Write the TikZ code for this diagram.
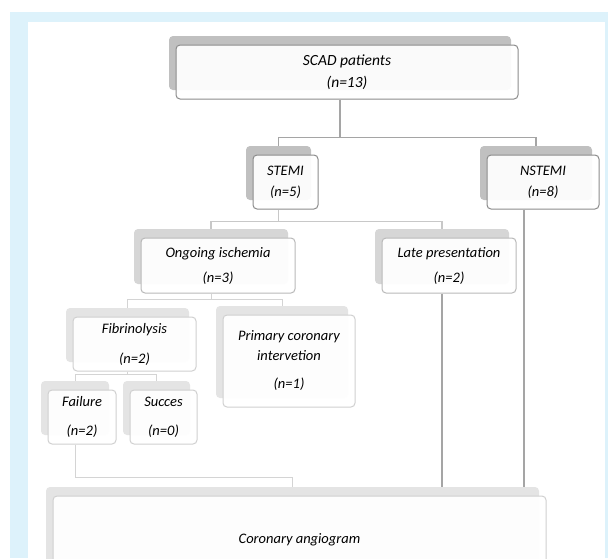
\documentclass[tikz,border=0pt]{standalone}
\usepackage{fontspec}
\setmainfont{Carlito}
\usepackage{xcolor}
\usepackage{tikz}
\usetikzlibrary{shadows,positioning}
\definecolor{framebl}{RGB}{221,242,251}
\definecolor{bordA}{RGB}{140,140,140}
\definecolor{bordB}{RGB}{185,185,185}
\definecolor{bordC}{RGB}{208,208,208}
\definecolor{shadA}{RGB}{192,192,192}
\definecolor{shadB}{RGB}{214,214,214}
\definecolor{shadC}{RGB}{228,228,228}
\definecolor{lineA}{RGB}{165,165,165}
\definecolor{lineB}{RGB}{200,200,200}
\definecolor{lineC}{RGB}{212,212,212}

\begin{document}
\begin{tikzpicture}[x=1pt,y=-1pt,font=\fontsize{14.5}{17}\selectfont\itshape,
   box/.style={rounded corners=4pt,fill=white,fill opacity=0.93,text opacity=1,
               inner sep=0pt,align=center,line width=1pt},
   boxa/.style={box,draw=bordA,general shadow={draw=none,fill=shadA,fill opacity=1,
               shadow xshift=-7pt,shadow yshift=9pt}},
   boxb/.style={box,draw=bordB,general shadow={draw=none,fill=shadB,fill opacity=1,
               shadow xshift=-7pt,shadow yshift=9pt}},
   boxc/.style={box,draw=bordC,general shadow={draw=none,fill=shadC,fill opacity=1,
               shadow xshift=-7pt,shadow yshift=9pt}},
   lnA/.style={draw=lineA,line width=1.3pt},
   lnB/.style={draw=lineB,line width=1.1pt},
   lnC/.style={draw=lineC,line width=1pt}]
  \useasboundingbox (0,0) rectangle (608,558);
  \clip (0,0) rectangle (608,558);
  \fill[white] (0,0) rectangle (608,558);
  \fill[framebl] (10,12) rectangle (608,558);
  \fill[white] (28,22) rectangle (605,558);

  \node[boxa,minimum width=342pt,minimum height=54pt,font=\fontsize{15.5}{18}\selectfont\itshape]
     (scad) at (347,72) {SCAD patients\\[4pt](n=13)};
  \node[boxa,minimum width=65pt,minimum height=54pt] (stemi) at (285.5,182) {STEMI\\[4pt](n=5)};
  \node[boxa,minimum width=112pt,minimum height=54pt] (nstemi) at (543,182) {NSTEMI\\[4pt](n=8)};
  \node[boxb,minimum width=154pt,minimum height=55pt] (ongo) at (218,265.5) {Ongoing ischemia\\[8pt](n=3)};
  \node[boxb,minimum width=134pt,minimum height=55pt] (late) at (449,265.5) {Late presentation\\[8pt](n=2)};
  \node[boxc,minimum width=123pt,minimum height=54pt] (fibr) at (134.5,344) {Fibrinolysis\\[13pt](n=2)};
  \node[boxc,minimum width=132pt,minimum height=92pt] (pci) at (289,361)
     {Primary coronary\\[3pt]intervetion\\[11pt](n=1)};
  \node[boxc,minimum width=68pt,minimum height=54pt] (fail) at (82,417) {Failure\\[12pt](n=2)};
  \node[boxc,minimum width=67pt,minimum height=54pt] (succ) at (163.5,417) {Succes\\[12pt](n=0)};
  \node[boxc,minimum width=493pt,minimum height=88pt] (angio) at (299.5,540) {Coronary angiogram};

  \draw[lnA] ([xshift=-7pt]scad.south) -- ++(0,38) coordinate (busa);
  \draw[lnA] (busa) -| ([xshift=-7pt,yshift=9pt]stemi.north);
  \draw[lnA] (busa) -| ([xshift=-7pt,yshift=9pt]nstemi.north);
  \draw[lnB] ([xshift=-7pt]stemi.south) -- ++(0,12) coordinate (busb);
  \draw[lnB] (busb) -| ([xshift=-7pt,yshift=9pt]ongo.north);
  \draw[lnB] (busb) -| ([xshift=-7pt,yshift=9pt]late.north);
  \draw[lnC] ([xshift=-7pt]ongo.south) -- ++(0,6) coordinate (busc);
  \draw[lnC] (busc) -| ([xshift=-7pt,yshift=9pt]fibr.north);
  \draw[lnC] (busc) -| ([xshift=-7pt,yshift=9pt]pci.north);
  \draw[lnC] ([xshift=-7pt]fibr.south) -- ++(0,3) coordinate (busd);
  \draw[lnC] (busd) -| ([xshift=-7pt,yshift=9pt]fail.north);
  \draw[lnC] (busd) -| ([xshift=-7pt,yshift=9pt]succ.north);
  \coordinate (angtop) at ([xshift=-7pt,yshift=9pt]angio.north);
  \draw[lnC] ([xshift=-7pt]fail.south) -- ++(0,33) -| (angtop);
  \draw[lnA] ([xshift=-7pt]late.south) coordinate (lateb) -- (lateb |- angtop);
  \draw[lnA] ([xshift=-19pt]nstemi.south) coordinate (nstb) -- (nstb |- angtop);
\end{tikzpicture}
\end{document}
